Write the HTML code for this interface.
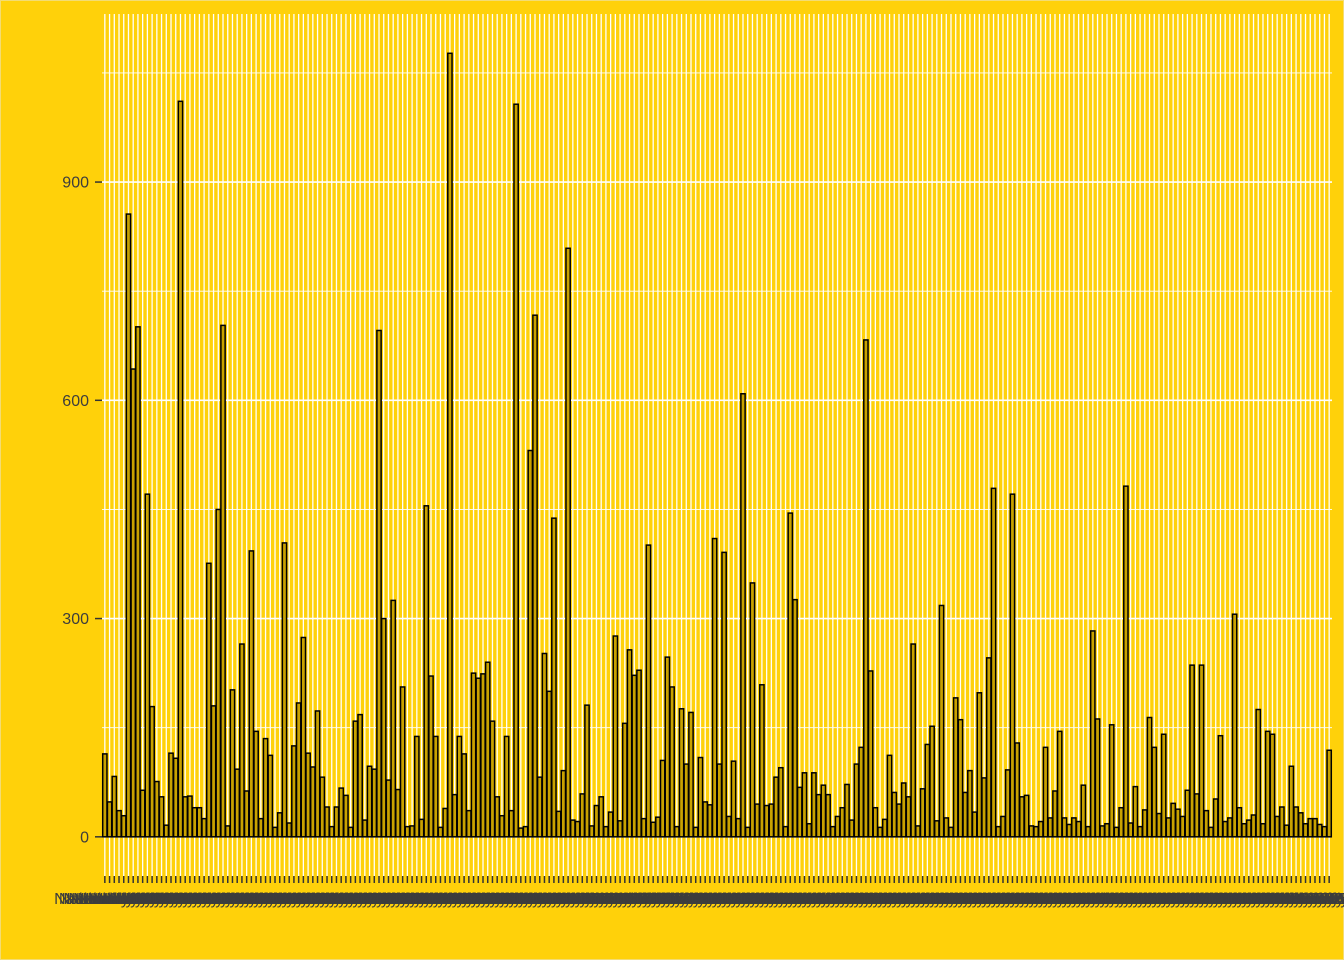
<!DOCTYPE html>
<html><head><meta charset="utf-8"><style>
html,body{margin:0;padding:0;background:#FFD10A;}
svg{display:block;font-family:"Liberation Sans",sans-serif;}
</style></head><body>
<svg id="chart" width="1344" height="960" viewBox="0 0 1344 960" xmlns="http://www.w3.org/2000/svg">
<rect x="0" y="0" width="1344" height="960" fill="#FFD10A" stroke="#f3dc74" stroke-width="2"/>
<g id="panel"></g>
</svg>
<script>
const values = [114,48,83,36,29,856,643,701,64,471,179,76,55,16,115,108,1011,55,56,40,40,25,376,180,450,703,15,202,93,265,63,393,145,25,135,112,13,33,404,19,125,184,274,115,96,173,82,41,14,41,67,57,
13,159,168,23,97,93,696,300,78,325,65,206,14,15,138,24,455,221,138,13,39,1077,58,138,114,36,225,218,224,240,159,55,29,138,36,1007,12,14,531,717,82,252,200,438,35,91,809,23,21,59,181,
15,43,55,14,34,276,22,156,257,222,229,25,401,20,27,105,247,206,14,176,100,171,13,109,48,44,410,100,391,28,104,25,609,13,349,45,209,43,45,82,95,14,445,326,68,88,18,88,58,71,58,14,
28,40,72,23,100,123,683,228,40,13,24,112,61,45,74,55,265,15,66,127,152,22,318,26,13,191,161,61,91,34,198,81,246,479,14,28,92,471,129,55,57,15,14,21,123,26,63,145,26,17,26,21,
71,14,283,162,15,18,154,13,40,482,19,69,14,37,164,123,32,141,26,46,38,28,64,236,59,236,36,13,52,139,21,26,306,40,18,23,30,175,18,145,141,28,41,16,97,41,33,18,25,25,17,14,119];
const categories = values.map((v,i)=>"Nationality" + String(i+1).padStart(3,"0"));
const yTicks = [0,300,600,900];
const yMinor = [150,450,750,1050];

const NS="http://www.w3.org/2000/svg";
const panel=document.getElementById('panel');
const L=102,R=1332,T=14,B=876;
const yMin=-53.85,yMax=1131;
const n=values.length;
const step=(R-L)/(n+0.2);
function xc(i){return L+step*(0.6+i);}
function y(v){return B-(v-yMin)/(yMax-yMin)*(B-T);}
function mk(tag,attrs){const e=document.createElementNS(NS,tag);for(const k in attrs)e.setAttribute(k,attrs[k]);return e;}

const bg=mk('rect',{x:L,y:T,width:R-L,height:B-T,fill:'#FFD10A'});


panel.appendChild(bg);

yMinor.forEach(t=>{const l=mk('line',{x1:L,x2:R,y1:y(t),y2:y(t),stroke:'#fff','stroke-width':0.8});


panel.appendChild(l);});
categories.forEach((c,i)=>{const l=mk('line',{x1:xc(i),x2:xc(i),y1:T,y2:B,stroke:'#fff','stroke-width':1.3});


panel.appendChild(l);});
yTicks.forEach(t=>{const l=mk('line',{x1:L,x2:R,y1:y(t),y2:y(t),stroke:'#fff','stroke-width':1.6});


panel.appendChild(l);
const tk=mk('line',{x1:95,x2:L,y1:y(t),y2:y(t),stroke:'#333','stroke-width':1.5});


panel.appendChild(tk);
const tx=mk('text',{x:89,y:y(t)+5.5,'text-anchor':'end','font-size':16,fill:'#3d3d3d'});
tx.textContent=t;


panel.appendChild(tx);});

const bw=step*0.9;
values.forEach((v,i)=>{const r=mk('rect',{x:xc(i)-bw/2,y:y(v),width:bw,height:y(0)-y(v),fill:'#C9A200',stroke:'#000','stroke-width':1.5});


panel.appendChild(r);});

categories.forEach((c,i)=>{const tk=mk('line',{x1:xc(i),x2:xc(i),y1:B,y2:B+7,stroke:'#333','stroke-width':1.5});


panel.appendChild(tk);
const tx=mk('text',{x:xc(i),y:904,'text-anchor':'middle','font-size':16,fill:'#3d3d3d'});
tx.textContent=c;


panel.appendChild(tx);});
</script>
</body></html>
